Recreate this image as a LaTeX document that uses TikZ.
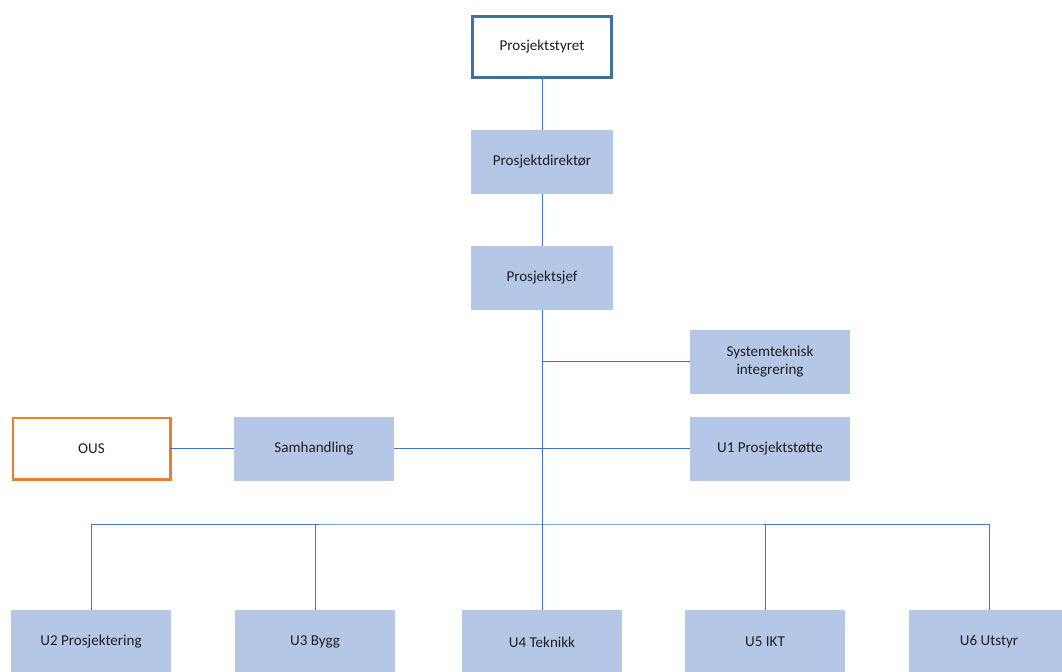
\documentclass[tikz,border=0pt]{standalone}
\usepackage{fontspec}
\setmainfont{Carlito}
\definecolor{boxfill}{HTML}{B4C7E7}
\definecolor{linecol}{HTML}{4472C4}
\definecolor{topedge}{HTML}{41719C}
\definecolor{ousedge}{HTML}{ED7D31}
\definecolor{txt}{HTML}{1E1E1E}
\begin{document}
\begin{tikzpicture}[x=0.75pt,y=-0.75pt,
  orgbox/.style={fill=boxfill, draw=none, minimum width=120pt, minimum height=48pt,
    inner sep=2pt, outer sep=0pt, align=center, text=txt, font=\fontsize{11.3}{13.5}\selectfont},
  narrowbox/.style={orgbox, minimum width=106pt},
  conn/.style={draw=linecol, line width=0.75pt}]
\useasboundingbox (0,0) rectangle (1062,671);
\clip (0,0) rectangle (1062,671);
% top chain
\node[narrowbox, fill=white, draw=topedge, line width=2pt, minimum width=104pt, minimum height=46pt] (styret) at (542,47) {Prosjektstyret};
\node[narrowbox] (dir) at (542,161.5) {Prosjektdirektør};
\node[narrowbox] (sjef) at (542,278) {Prosjektsjef};
% side boxes
\node[orgbox] (sys) at (770,361.5) {Systemteknisk\\integrering};
\node[orgbox] (u1) at (770,448.5) {U1 Prosjektstøtte};
\node[orgbox] (sam) at (314,448.5) {Samhandling};
\node[orgbox, fill=white, draw=ousedge, line width=2pt, minimum width=118pt, minimum height=46pt] (ous) at (91.5,448.5) {OUS};
% bottom row
\node[orgbox] (u2) at (91,642) {U2 Prosjektering};
\node[orgbox] (u3) at (315,642) {U3 Bygg};
\node[orgbox] (u4) at (542,642) {U4 Teknikk};
\node[orgbox] (u5) at (765,642) {U5 IKT};
\node[orgbox] (u6) at (989,642) {U6 Utstyr};
\coordinate (bus) at (542,524);
% connectors
\draw[conn] (styret.south) -- (dir.north);
\draw[conn] (dir.south) -- (sjef.north);
\draw[conn] (sjef.south) -- (bus);
\draw[conn] (sys.west) -- (sys.west -| sjef.south);
\draw[conn] (sam.east) -- (u1.west);
\draw[conn] (ous.east) -- (sam.west);
\draw[conn] (u2.north) |- (bus) -| (u6.north);
\draw[conn] (u3.north) -- (u3.north |- bus);
\draw[conn] (u4.north) -- (bus);
\draw[conn] (u5.north) -- (u5.north |- bus);
\end{tikzpicture}
\end{document}
